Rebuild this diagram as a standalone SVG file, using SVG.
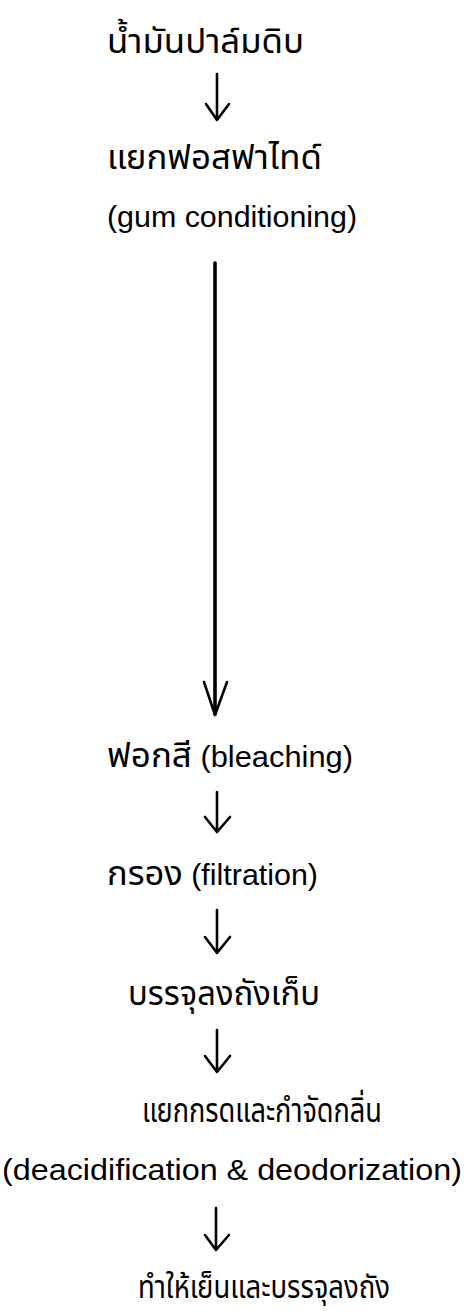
<svg xmlns="http://www.w3.org/2000/svg" width="466" height="1311" viewBox="0 0 466 1311">
<style>
.t{font-family:"Liberation Sans","Noto Sans Thai","Noto Sans","DejaVu Sans",sans-serif;font-size:30px;fill:#000}
.th{font-family:"Noto Sans Thai","Noto Sans","DejaVu Sans",sans-serif;font-size:34px}
.a{fill:none;stroke:#000;stroke-width:2.6;stroke-linecap:round;stroke-linejoin:round}
</style>
<rect width="466" height="1311" fill="#fff"/>
<g id="n1"><text class="t th" x="107" y="53" textLength="197" lengthAdjust="spacingAndGlyphs">น้ำมันปาล์มดิบ</text></g>
<g id="n2"><text class="t th" x="107" y="169" textLength="215" lengthAdjust="spacingAndGlyphs">แยกฟอสฟาไทด์</text>
<text class="t" x="107" y="227" textLength="250" lengthAdjust="spacingAndGlyphs">(gum conditioning)</text></g>
<g id="n3"><text class="t" x="107" y="767" textLength="246" lengthAdjust="spacingAndGlyphs"><tspan class="th">ฟอกสี</tspan> (bleaching)</text></g>
<g id="n4"><text class="t" x="107" y="885" textLength="211" lengthAdjust="spacingAndGlyphs"><tspan class="th">กรอง</tspan> (filtration)</text></g>
<g id="n5"><text class="t th" x="128" y="1005" textLength="192" lengthAdjust="spacingAndGlyphs">บรรจุลงถังเก็บ</text></g>
<g id="n6"><text class="t th" x="142" y="1122" textLength="240" lengthAdjust="spacingAndGlyphs">แยกกรดและกำจัดกลิ่น</text>
<text class="t" x="2" y="1180" textLength="460" lengthAdjust="spacingAndGlyphs">(deacidification &amp; deodorization)</text></g>
<g id="n7"><text class="t th" x="138" y="1298" textLength="252" lengthAdjust="spacingAndGlyphs" style="font-size:32px">ทำให้เย็นและบรรจุลงถัง</text></g>
<g id="connectors">
<path class="a" d="M217 74V119M206 104L217 120L229 104"/>
<path class="a" d="M215 263V714" style="stroke-width:3.6"/>
<path class="a" d="M204 682L215 715L227 682"/>
<path class="a" d="M217 792V831M205 817L217 832L230 817"/>
<path class="a" d="M217 910V952M205 937L217 953L230 937"/>
<path class="a" d="M217 1030V1071M205 1056L217 1072L230 1056"/>
<path class="a" d="M216 1208V1249M205 1235L216 1250L229 1235"/>
</g>
</svg>
